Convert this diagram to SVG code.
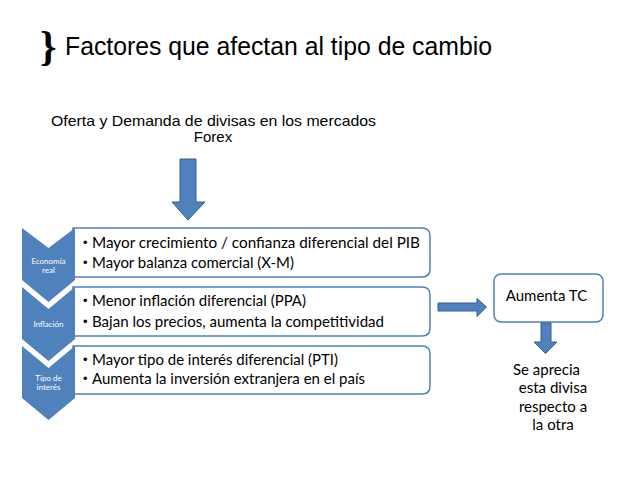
<svg xmlns="http://www.w3.org/2000/svg" width="638" height="479" viewBox="0 0 638 479">
<style>
.chev{fill:#4f81bd;}
.box{fill:#ffffff;stroke:#4f81bd;stroke-width:1.5;}
.arr{fill:#4f81bd;stroke:#385d8a;stroke-width:1;}
.bt{font-family:Lato,"Liberation Sans",sans-serif;font-size:15px;fill:#000;}
.bu{font-family:"Liberation Sans",sans-serif;font-size:13px;fill:#000;}
.ct{font-family:Lato,"Liberation Sans",sans-serif;font-size:8px;fill:#ffffff;text-anchor:middle;}
.ar{font-family:"Liberation Sans",Arial,sans-serif;fill:#000;}
</style>
<rect width="638" height="479" fill="#ffffff"/>
<g id="title">
<text x="40" y="60" font-family="'Liberation Serif',serif" font-size="42" font-weight="bold" fill="#000">}</text>
<text class="ar" x="65" y="55" font-size="25" textLength="427" lengthAdjust="spacingAndGlyphs">Factores que afectan al tipo de cambio</text>
</g>
<g id="forex">
<text class="ar" x="51" y="126" font-size="15" textLength="325" lengthAdjust="spacingAndGlyphs">Oferta y Demanda de divisas en los mercados</text>
<text class="ar" x="213" y="142" font-size="15" text-anchor="middle">Forex</text>
</g>
<g id="box1">
<path class="box" d="M73,228 H422 Q430,228 430,236 V269 Q430,277 422,277 H73 Z"/>
<text class="bu" x="83" y="247">•</text>
<text class="bt" x="92" y="247.5" textLength="328" lengthAdjust="spacingAndGlyphs">Mayor crecimiento / confianza diferencial del PIB</text>
<text class="bu" x="83" y="267">•</text>
<text class="bt" x="92" y="267.5" textLength="202" lengthAdjust="spacingAndGlyphs">Mayor balanza comercial (X-M)</text>
</g>
<g id="box2">
<path class="box" d="M73,287 H422 Q430,287 430,295 V328 Q430,336 422,336 H73 Z"/>
<text class="bu" x="83" y="305">•</text>
<text class="bt" x="92" y="305.5" textLength="214" lengthAdjust="spacingAndGlyphs">Menor inflación diferencial (PPA)</text>
<text class="bu" x="83" y="326">•</text>
<text class="bt" x="92" y="326.5" textLength="292" lengthAdjust="spacingAndGlyphs">Bajan los precios, aumenta la competitividad</text>
</g>
<g id="box3">
<path class="box" d="M73,346 H422 Q430,346 430,354 V386 Q430,394 422,394 H73 Z"/>
<text class="bu" x="83" y="364">•</text>
<text class="bt" x="92" y="364.5" textLength="246" lengthAdjust="spacingAndGlyphs">Mayor tipo de interés diferencial (PTI)</text>
<text class="bu" x="83" y="383">•</text>
<text class="bt" x="92" y="383.5" textLength="273" lengthAdjust="spacingAndGlyphs">Aumenta la inversión extranjera en el país</text>
</g>
<g id="chev1">
<polygon class="chev" points="22,228 48.5,248 75,228 75,280 48.5,302 22,280"/>
<text class="ct" x="48.5" y="264">Economía</text>
<text class="ct" x="48.5" y="273">real</text>
</g>
<g id="chev2">
<polygon class="chev" points="22,287 48.5,309 75,287 75,339 48.5,361 22,339"/>
<text class="ct" x="48.5" y="327">Inflación</text>
</g>
<g id="chev3">
<polygon class="chev" points="22,346 48.5,368 75,346 75,398 48.5,420 22,398"/>
<text class="ct" x="48.5" y="381">Tipo de</text>
<text class="ct" x="48.5" y="390">interés</text>
</g>
<g id="aumenta">
<rect class="box" x="494" y="274" width="109" height="48" rx="7"/>
<text class="bt" x="546.5" y="301" text-anchor="middle">Aumenta TC</text>
</g>
<g id="resultado">
<text class="bt" x="546.5" y="375" text-anchor="middle">Se aprecia</text>
<text class="bt" x="553" y="393" text-anchor="middle">esta divisa</text>
<text class="bt" x="553" y="411.5" text-anchor="middle">respecto a</text>
<text class="bt" x="553" y="429.5" text-anchor="middle">la otra</text>
</g>
<g id="connectors">
<polygon class="arr" points="180,159 196,159 196,202 205,202 188,220 172,202 180,202"/>
<polygon class="arr" points="438,303 477,303 477,298.5 486.5,307 477,316.5 477,311 438,311"/>
<polygon class="arr" points="541,323 551,323 551,342 557,342 545.5,353.5 534,342 541,342"/>
</g>
</svg>
